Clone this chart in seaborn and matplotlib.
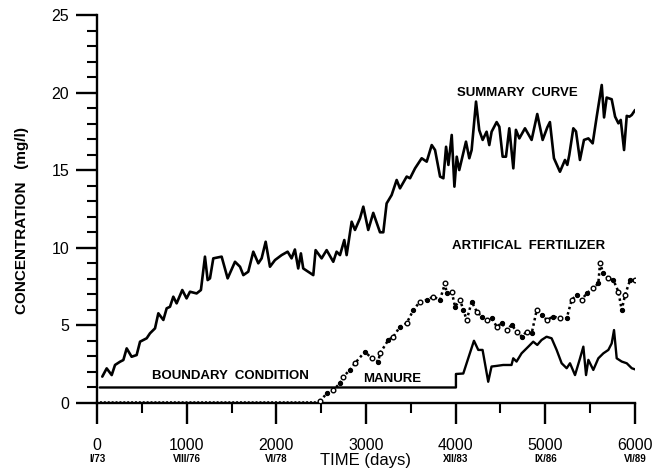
import matplotlib
matplotlib.use("Agg")
import matplotlib.pyplot as plt
import seaborn as sns
import pandas as pd
from matplotlib.ticker import MultipleLocator

# ---- data -------------------------------------------------------------
summary_days = [59, 108, 164, 201, 257, 294, 331, 386, 442, 480, 554, 591, 647,
                684, 740, 777, 814, 851, 888, 951, 999, 1037, 1111, 1159, 1204,
                1234, 1260, 1297, 1390, 1457, 1539, 1595, 1632, 1687, 1743, 1799,
                1836, 1881, 1929, 1985, 2059, 2126, 2170, 2207, 2244, 2274, 2300,
                2412, 2438, 2505, 2561, 2635, 2672, 2710, 2758, 2784, 2840, 2877,
                2933, 2970, 3025, 3081, 3156, 3193, 3230, 3286, 3342, 3379, 3454,
                3491, 3547, 3621, 3677, 3733, 3770, 3826, 3863, 3893, 3919, 3956,
                3986, 4012, 4040, 4115, 4152, 4178, 4227, 4263, 4301, 4345, 4375,
                4401, 4457, 4487, 4524, 4561, 4598, 4643, 4672, 4710, 4773, 4847,
                4910, 4970, 5022, 5051, 5096, 5163, 5219, 5245, 5267, 5312, 5342,
                5386, 5431, 5480, 5528, 5573, 5629, 5655, 5684, 5740, 5778, 5815,
                5841, 5878, 5908, 5938, 5964, 6001]
summary_conc = [1.70, 2.23, 1.80, 2.45, 2.66, 2.77, 3.52, 2.98, 3.09, 3.95, 4.17,
                4.49, 4.81, 5.78, 5.35, 6.10, 6.20, 6.85, 6.42, 7.28, 6.74, 7.17,
                7.06, 7.28, 9.43, 7.92, 8.03, 9.32, 9.43, 8.03, 9.10, 8.78, 8.24,
                8.46, 9.75, 9.00, 9.32, 10.39, 8.78, 9.21, 9.53, 9.75, 9.32, 9.89,
                8.67, 9.64, 8.67, 8.24, 9.85, 9.32, 9.85, 9.10, 9.75, 9.53, 10.50,
                9.53, 11.68, 11.15, 11.90, 12.65, 11.15, 12.25, 11.00, 11.00, 12.86,
                13.40, 14.37, 13.83, 14.59, 14.48, 15.12, 15.77, 15.55, 16.62, 16.30,
                14.59, 14.48, 16.51, 15.34, 17.27, 13.94, 15.87, 15.01, 16.84, 15.77,
                16.30, 19.42, 17.58, 16.95, 17.48, 16.62, 17.48, 18.10, 17.80, 15.87,
                15.87, 17.70, 15.12, 17.60, 17.05, 17.70, 16.95, 18.62, 16.95, 17.76,
                18.10, 15.77, 14.90, 15.66, 15.34, 15.98, 17.70, 17.50, 15.66, 16.95,
                17.05, 16.73, 18.45, 20.49, 18.40, 19.68, 19.57, 18.45, 18.02, 18.24,
                16.30, 18.50, 18.45, 18.56, 18.88]

manure_days = [30, 4003, 4003, 4085, 4122, 4204, 4252, 4300, 4363, 4400, 4456,
               4530, 4623, 4642, 4679, 4735, 4810, 4865, 4910, 4958, 5014, 5070,
               5126, 5182, 5238, 5275, 5331, 5387, 5424, 5454, 5480, 5535, 5591,
               5647, 5703, 5740, 5766, 5796, 5852, 5908, 5964, 6020]
manure_conc = [1.0, 1.0, 1.87, 1.90, 2.56, 4.01, 3.42, 3.42, 1.37, 2.35, 2.39,
               2.45, 2.45, 2.88, 2.67, 3.20, 3.63, 3.95, 3.74, 4.06, 4.27, 4.17,
               3.42, 2.56, 2.24, 2.56, 1.80, 2.88, 3.63, 1.80, 2.78, 2.13, 2.88,
               3.20, 3.42, 3.84, 4.70, 2.88, 2.67, 2.56, 2.24, 2.13]

fert_base_days = [30, 2450]
fert_base_conc = [0.08, 0.08]

fert_days = [2487, 2561, 2635, 2710, 2747, 2821, 2877, 2988, 3063, 3137, 3156,
             3249, 3305, 3379, 3453, 3528, 3602, 3677, 3751, 3825, 3881, 3900,
             3956, 3993, 4049, 4086, 4123, 4179, 4235, 4290, 4346, 4402, 4458,
             4514, 4569, 4625, 4681, 4737, 4792, 4848, 4904, 4960, 5016, 5090,
             5164, 5238, 5294, 5350, 5405, 5461, 5536, 5591, 5610, 5647, 5703,
             5759, 5815, 5852, 5889, 5945, 6001]
fert_conc = [0.10, 0.62, 0.84, 1.27, 1.70, 2.13, 2.56, 3.31, 2.88, 2.67, 3.20,
             4.06, 4.27, 4.92, 5.14, 5.99, 6.53, 6.64, 6.85, 6.64, 7.71, 7.07,
             7.17, 6.21, 6.64, 5.99, 5.35, 6.53, 5.89, 5.57, 5.35, 5.46, 4.92,
             5.14, 4.71, 5.03, 4.60, 4.28, 4.60, 4.50, 5.99, 5.67, 5.35, 5.57,
             5.46, 5.46, 6.64, 6.96, 6.64, 7.07, 7.39, 7.71, 9.00, 8.35, 8.03,
             7.92, 7.17, 5.99, 6.96, 7.92, 7.92]

x_ticks = [0, 1000, 2000, 3000, 4000, 5000, 6000]
date_ticks = [0, 1000, 2000, 4000, 5000, 6000]
date_labels = ["I/73", "VIII/76", "VI/78", "XII/83", "IX/86", "VI/89"]
y_ticks = [0, 5, 10, 15, 20, 25]

curve_labels = ["SUMMARY  CURVE", "ARTIFICAL  FERTILIZER",
                "BOUNDARY  CONDITION", "MANURE"]
curve_label_x = [4010, 3958, 613, 2965]
curve_label_y = [20.0, 10.1, 1.74, 1.55]

# ---- style ------------------------------------------------------------
sns.set_style("ticks")
plt.rcParams["font.family"] = ["Liberation Sans", "DejaVu Sans"]
for key in ("text.color", "axes.edgecolor", "axes.labelcolor",
            "xtick.color", "ytick.color"):
    plt.rcParams[key] = "black"
plt.rcParams["axes.linewidth"] = 1.7
plt.rcParams["xtick.major.width"] = 1.7
plt.rcParams["ytick.major.width"] = 1.7
plt.rcParams["xtick.minor.width"] = 1.5
plt.rcParams["ytick.minor.width"] = 1.5

fig = plt.figure(figsize=(6.52, 4.70), dpi=100)
ax = fig.add_axes([97 / 652, 67 / 470, 538 / 652, 388 / 470])

summary = pd.DataFrame({"days": summary_days, "conc": summary_conc})
manure = pd.DataFrame({"days": manure_days, "conc": manure_conc})
fert = pd.DataFrame({"days": fert_days, "conc": fert_conc})
fert_base = pd.DataFrame({"days": fert_base_days, "conc": fert_base_conc})

sns.lineplot(data=summary, x="days", y="conc", ax=ax, color="black",
             linewidth=1.9, sort=False, estimator=None)
sns.lineplot(data=manure, x="days", y="conc", ax=ax, color="black",
             linewidth=1.7, sort=False, estimator=None)
sns.lineplot(data=fert_base, x="days", y="conc", ax=ax, color="#333333",
             linewidth=1.4, linestyle=(0, (1, 1)), sort=False, estimator=None)
sns.lineplot(data=fert, x="days", y="conc", ax=ax, color="black",
             linewidth=1.8, linestyle=(0, (1, 1.2)), sort=False, estimator=None)

# measured points: alternate hollow and solid glyphs along the series
hollow = fert.iloc[::2]
solid = fert.iloc[1::2]
sns.scatterplot(data=hollow, x="days", y="conc", ax=ax, marker="o", s=11,
                facecolor="white", edgecolor="black", linewidth=1.0, zorder=3)
sns.scatterplot(data=solid, x="days", y="conc", ax=ax, marker="o", s=9,
                facecolor="black", edgecolor="black", linewidth=0.8, zorder=3)

for label, lx, ly in zip(curve_labels, curve_label_x, curve_label_y):
    ax.text(lx, ly, label, fontsize=9.5, fontweight="bold", ha="left",
            va="center")

# ---- axes -------------------------------------------------------------
ax.set_xlim(0, 6000)
ax.set_ylim(0, 25)
ax.set_xticks(x_ticks)
ax.set_yticks(y_ticks)
ax.xaxis.set_minor_locator(MultipleLocator(500))
ax.yaxis.set_minor_locator(MultipleLocator(1))
ax.tick_params(axis="both", which="major", length=15, labelsize=11.5)
ax.tick_params(axis="x", which="major", pad=10)
ax.tick_params(axis="y", which="major", pad=5)
ax.tick_params(axis="both", which="minor", length=7)
sns.despine(ax=ax)
ax.set_xlabel("")
ax.set_ylabel("")

for d, lab in zip(date_ticks, date_labels):
    ax.text(d, -56 / 388, lab, transform=ax.get_xaxis_transform(),
            fontsize=7, fontweight="bold", ha="center", va="center")

ax.text(0.5, -58 / 388, "TIME (days)", transform=ax.transAxes,
        fontsize=12, ha="center", va="center")
fig.text(22 / 652, 1 - 221 / 470, "CONCENTRATION   (mg/l)", rotation=90,
         fontsize=11, fontweight="bold", ha="center", va="center")

fig.savefig("out.png", dpi=100)
